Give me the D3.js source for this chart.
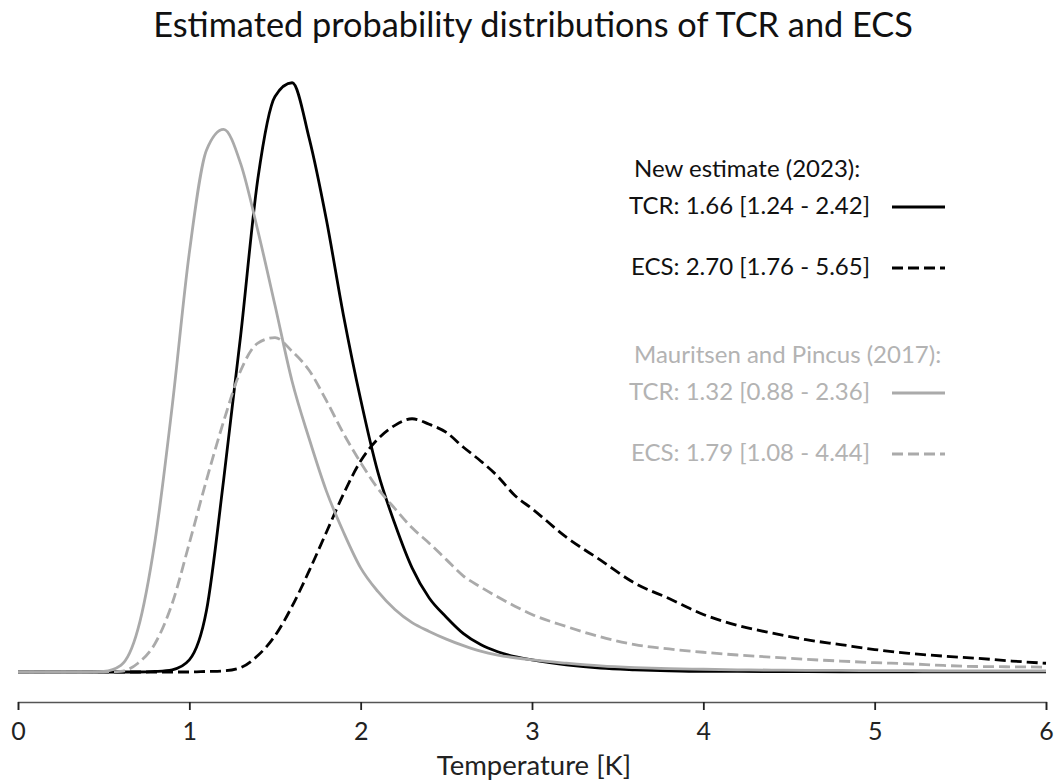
<!DOCTYPE html>
<html>
<head>
<meta charset="utf-8">
<script src="https://cdn.jsdelivr.net/npm/d3@7"></script>
<style>
	body { margin: 0; background: #fff; }
	text { font-family: Lato, 'Noto Sans', sans-serif; font-weight: 400; }
</style>
</head>
<body>
<script>
// Temperature grid (K) the curves were read at
const temps = [
	0.0, 0.1, 0.2, 0.3, 0.4, 0.5, 0.6, 0.7, 0.8, 0.9,
	1.0, 1.1, 1.2, 1.3, 1.4, 1.5, 1.6, 1.7, 1.8, 1.9,
	2.0, 2.1, 2.2, 2.3, 2.4, 2.5, 2.6, 2.7, 2.8, 2.9,
	3.0, 3.2, 3.4, 3.6, 3.8, 4.0, 4.2, 4.4, 4.6, 4.8,
	5.0, 5.2, 5.4, 5.6, 5.8, 6.0
]

// New estimate (2023)
const tcrNew = [
	0, 0, 0, 0, 0, 0, 0, 0, 0.001, 0.004,
	0.022, 0.112, 0.35, 0.615, 0.9, 1.05, 1.075, 0.973, 0.825, 0.65,
	0.497, 0.365, 0.27, 0.19, 0.135, 0.1, 0.07, 0.05, 0.037, 0.028,
	0.022, 0.013, 0.007, 0.004, 0.002, 0.001, 0.001, 0.0008, 0.0006, 0.0005,
	0.0005, 0.0004, 0.0004, 0.0003, 0.0003, 0.0003
]
const ecsNew = [
	0, 0, 0, 0, 0, 0, 0, 0, 0, 0,
	0, 0.001, 0.002, 0.008, 0.03, 0.066, 0.12, 0.185, 0.255, 0.325,
	0.385, 0.425, 0.45, 0.462, 0.452, 0.437, 0.41, 0.385, 0.357, 0.322,
	0.298, 0.246, 0.204, 0.162, 0.134, 0.105, 0.085, 0.071, 0.059, 0.05,
	0.041, 0.034, 0.029, 0.025, 0.02, 0.016
]

// Mauritsen and Pincus (2017)
const tcrOld = [
	0, 0, 0, 0, 0, 0.001, 0.012, 0.078, 0.24, 0.485,
	0.765, 0.952, 0.99, 0.927, 0.805, 0.669, 0.53, 0.425, 0.33, 0.255,
	0.19, 0.147, 0.114, 0.09, 0.074, 0.06, 0.048, 0.038, 0.031, 0.026,
	0.022, 0.016, 0.011, 0.008, 0.006, 0.005, 0.004, 0.0035, 0.003, 0.003,
	0.0025, 0.0025, 0.002, 0.002, 0.002, 0.002
]
const ecsOld = [
	0, 0, 0, 0, 0, 0, 0.001, 0.016, 0.052, 0.125,
	0.235, 0.35, 0.457, 0.55, 0.6, 0.61, 0.585, 0.55, 0.495, 0.435,
	0.382, 0.335, 0.298, 0.263, 0.235, 0.205, 0.175, 0.155, 0.137, 0.12,
	0.105, 0.083, 0.064, 0.05, 0.042, 0.036, 0.031, 0.027, 0.023, 0.02,
	0.017, 0.015, 0.012, 0.01, 0.0095, 0.009
]

const xTicks = [0, 1, 2, 3, 4, 5, 6]

const legendNew = ['TCR: 1.66 [1.24 - 2.42]', 'ECS: 2.70 [1.76 - 5.65]']
const legendOld = ['TCR: 1.32 [0.88 - 2.36]', 'ECS: 1.79 [1.08 - 4.44]']

const black = '#000'
const grey = '#aaa'

// size of the whole svg
const margin = { top: 80, bottom: 108, left: 18, right: 10 }
const width = 1056 - margin.left - margin.right
const height = 780 - margin.top - margin.bottom

const svg = d3
	.select('body')
	.append('svg')
	.attr('width', width + margin.left + margin.right)
	.attr('height', height + margin.top + margin.bottom)

const g = svg.append('g').attr('transform', `translate(${margin.left},${margin.top})`)

const xscale = d3.scaleLinear().domain([0, 6]).range([0, width])
const yscale = d3.scaleLinear().domain([0, 1.08]).range([height, 0])

// x axis sits a bit below the zero line
const xaxis = d3.axisBottom(xscale).tickValues(xTicks).tickSize(8).tickPadding(12).tickFormat(d3.format('d'))
const g_xaxis = g.append('g').attr('transform', `translate(0,${height + 30})`).call(xaxis)
g_xaxis.select('.domain').attr('stroke', '#555').attr('stroke-width', 1.3)
g_xaxis.selectAll('.tick line').attr('stroke', '#222').attr('stroke-width', 1.8)
g_xaxis.selectAll('.tick text').attr('font-size', 25).attr('fill', '#222').style('font-family', 'Lato, sans-serif')

g.append('text')
	.attr('x', width / 2 + 2)
	.attr('y', height + 103)
	.attr('text-anchor', 'middle')
	.attr('font-size', 27.5)
	.attr('fill', '#222')
	.text('Temperature [K]')

svg.append('text')
	.attr('x', margin.left + width / 2 + 1)
	.attr('y', 37)
	.attr('text-anchor', 'middle')
	.attr('font-size', 34.3)
	.attr('fill', '#111')
	.text('Estimated probability distributions of TCR and ECS')

// the four curves, old ones drawn on top
const series = [
	{ values: ecsNew, color: black, dash: '11,5' },
	{ values: tcrNew, color: black, dash: null },
	{ values: ecsOld, color: grey, dash: '11,5' },
	{ values: tcrOld, color: grey, dash: null }
]

const line = d3
	.line()
	.x(d => xscale(d[0]))
	.y(d => yscale(d[1]))
	.curve(d3.curveMonotoneX)

g.selectAll('path.curve')
	.data(series)
	.join('path')
	.attr('class', 'curve')
	.attr('fill', 'none')
	.attr('stroke', d => d.color)
	.attr('stroke-width', 2.8)
	.attr('stroke-dasharray', d => d.dash)
	.attr('d', d => line(temps.map((t, i) => [t, d.values[i]])))

// legend
const legend = svg.append('g')

function legendBlock(title, labels, color, top) {
	legend.append('text')
		.attr('x', 634)
		.attr('y', top)
		.attr('font-size', 24)
		.attr('fill', color === black ? '#111' : '#b3b3b3')
		.text(title)

	labels.forEach((label, i) => {
		const y = top + 37 + i * 61
		legend.append('text')
			.attr('x', 870)
			.attr('y', y)
			.attr('text-anchor', 'end')
			.attr('font-size', 24)
			.attr('fill', color === black ? '#111' : '#b3b3b3')
			.text(label)
		legend.append('line')
			.attr('x1', 892)
			.attr('x2', 945)
			.attr('y1', y - 7)
			.attr('y2', y - 7)
			.attr('stroke', color)
			.attr('stroke-width', 2.8)
			.attr('stroke-dasharray', i === 1 ? '11,5' : null)
	})
}

legendBlock('New estimate (2023):', legendNew, black, 177)
legendBlock('Mauritsen and Pincus (2017):', legendOld, grey, 363)
</script>
</body>
</html>
